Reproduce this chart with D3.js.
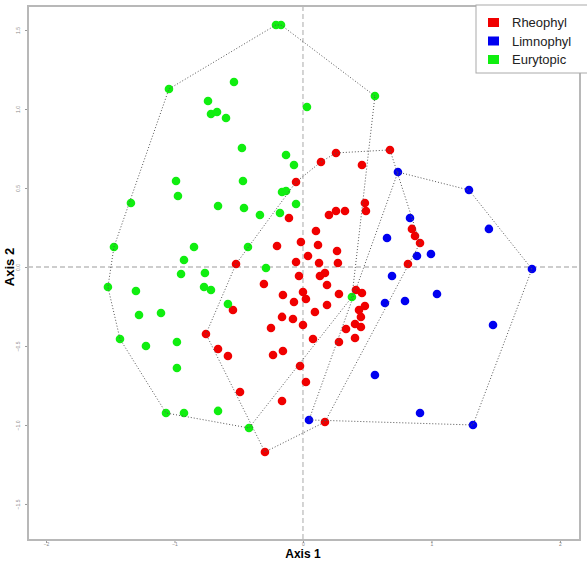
<!DOCTYPE html>
<html>
<head>
<meta charset="utf-8">
<script src="https://cdn.jsdelivr.net/npm/d3@7"></script>
<style>
  body { margin: 0; background: #fff; }
  svg { display: block; font-family: "Liberation Sans", Arial, sans-serif; }
</style>
</head>
<body>
<svg id="chart"></svg>
<script>
// groups and their colours
var groups = ["Rheophyl", "Limnophyl", "Eurytopic"];
var groupColors = ["#f00000", "#0000f0", "#10ee10"];

// site scores: [axis1, axis2]
var rheophyl = [
  [0.257, 0.722], [0.677, 0.741], [0.140, 0.665], [0.459, 0.646], [-0.054, 0.538],
  [0.482, 0.405], [0.490, 0.354], [0.202, 0.329], [0.257, 0.354], [0.327, 0.354],
  [-0.109, 0.310], [0.101, 0.228], [-0.202, 0.133], [-0.016, 0.158], [0.117, 0.139],
  [0.265, 0.101], [-0.054, 0.032], [0.039, 0.070], [0.125, 0.025], [0.272, 0.025],
  [-0.521, 0.019], [-0.031, -0.057], [0.132, -0.057], [0.171, -0.038], [0.817, 0.019],
  [0.187, -0.114], [-0.304, -0.108], [-0.156, -0.177], [0.000, -0.158], [0.023, -0.203],
  [-0.070, -0.222], [0.280, -0.171], [0.412, -0.146], [0.459, -0.165], [0.482, -0.247],
  [0.436, -0.272], [0.451, -0.316], [0.187, -0.241], [0.093, -0.285], [-0.163, -0.316],
  [-0.078, -0.329], [0.000, -0.367], [-0.249, -0.386], [0.405, -0.361], [0.451, -0.380],
  [0.335, -0.392], [0.405, -0.449], [0.280, -0.475], [0.078, -0.456], [-0.545, -0.272],
  [-0.755, -0.424], [-0.661, -0.519], [-0.584, -0.563], [-0.233, -0.557], [-0.156, -0.532],
  [-0.023, -0.627], [0.023, -0.728], [-0.490, -0.791], [-0.163, -0.848], [0.171, -0.981],
  [-0.296, -1.171], [0.848, 0.241], [0.872, 0.196], [0.911, 0.152]
];
var limnophyl = [
  [0.739, 0.601], [1.292, 0.487], [0.833, 0.310], [1.447, 0.241], [0.654, 0.184],
  [0.693, -0.057], [0.887, 0.070], [0.996, 0.082], [1.782, -0.013], [0.638, -0.228],
  [0.794, -0.215], [1.043, -0.171], [1.479, -0.367], [0.560, -0.684], [0.911, -0.924],
  [0.047, -0.968], [1.323, -1.000]
];
var eurytopic = [
  [-0.210, 1.532], [-0.171, 1.532], [-1.043, 1.127], [-0.537, 1.171], [0.560, 1.082],
  [-0.739, 1.051], [-0.716, 0.968], [-0.669, 0.981], [-0.599, 0.943], [0.031, 1.013],
  [-0.475, 0.753], [-0.132, 0.709], [-0.070, 0.646], [-0.988, 0.544], [-0.467, 0.544],
  [-0.973, 0.449], [-0.163, 0.475], [-0.132, 0.481], [-1.339, 0.405], [-0.661, 0.386],
  [-0.459, 0.373], [-0.054, 0.399], [-0.335, 0.329], [-0.179, 0.342], [-1.471, 0.127],
  [-0.848, 0.127], [-0.428, 0.127], [-0.926, 0.044], [-0.288, -0.006], [-0.949, -0.044],
  [-0.763, -0.038], [-1.518, -0.127], [-1.300, -0.152], [-0.770, -0.127], [-0.716, -0.146],
  [-0.584, -0.234], [-1.276, -0.304], [-1.105, -0.291], [-1.424, -0.456], [-1.222, -0.500],
  [-0.981, -0.475], [-0.981, -0.639], [0.381, -0.190], [-1.066, -0.924], [-0.926, -0.924],
  [-0.661, -0.911], [-0.420, -1.019]
];

var xTicks = [-2, -1, 0, 1, 2];
var yTicks = [-1.5, -1.0, -0.5, 0.0, 0.5, 1.0, 1.5];

var W = 587, H = 562;
var plot = {left: 28, right: 580, top: 6, bottom: 540};

var svg = d3.select("#chart").attr("width", W).attr("height", H);

var x = d3.scaleLinear().domain([-2.140, 2.156]).range([plot.left, plot.right]);
var y = d3.scaleLinear().domain([-1.728, 1.652]).range([plot.bottom, plot.top]);

// zero lines
svg.append("line")
  .attr("x1", x(0)).attr("x2", x(0))
  .attr("y1", plot.top).attr("y2", plot.bottom)
  .attr("stroke", "#bdbdbd").attr("stroke-width", 1.3).attr("stroke-dasharray", "5,3");
svg.append("line")
  .attr("x1", plot.left).attr("x2", plot.right)
  .attr("y1", y(0)).attr("y2", y(0))
  .attr("stroke", "#bdbdbd").attr("stroke-width", 1.5).attr("stroke-dasharray", "5,3");

// axes
var xAxis = svg.append("g")
  .attr("transform", "translate(0," + plot.bottom + ")")
  .call(d3.axisBottom(x).tickValues(xTicks).tickSize(3).tickFormat(d3.format("d")));
var yAxis = svg.append("g")
  .attr("transform", "translate(" + plot.left + ",0)")
  .call(d3.axisLeft(y).tickValues(yTicks).tickSize(3).tickFormat(d3.format(".1f")));
[xAxis, yAxis].forEach(function(g) {
  g.select(".domain").remove();
  g.selectAll(".tick line").attr("stroke", "#999");
  g.selectAll(".tick text").attr("fill", "#888").style("font-size", "5px");
});
xAxis.selectAll(".tick text").attr("y", 2);
yAxis.selectAll(".tick text")
  .attr("x", null).attr("dy", null)
  .attr("text-anchor", "middle")
  .attr("transform", "translate(-8,0) rotate(-90)");

// frame
svg.append("rect")
  .attr("x", plot.left).attr("y", plot.top)
  .attr("width", plot.right - plot.left).attr("height", plot.bottom - plot.top)
  .attr("fill", "none").attr("stroke", "#b8b8b8").attr("stroke-width", 2);

var sets = [rheophyl, limnophyl, eurytopic];

// points
sets.forEach(function(pts, i) {
  svg.append("g").selectAll("circle")
    .data(pts)
    .join("circle")
      .attr("cx", function(d) { return x(d[0]); })
      .attr("cy", function(d) { return y(d[1]); })
      .attr("r", 4.3)
      .attr("fill", groupColors[i]);
});

// convex hulls, dotted
sets.forEach(function(pts) {
  var hull = d3.polygonHull(pts.map(function(d) { return [x(d[0]), y(d[1])]; }));
  svg.append("path")
    .attr("d", "M" + hull.join("L") + "Z")
    .attr("fill", "none")
    .attr("stroke", "#555")
    .attr("stroke-width", 1)
    .attr("stroke-dasharray", "1,2");
});

// legend
var legend = svg.append("g");
legend.append("rect")
  .attr("x", 476).attr("y", 5).attr("width", 120).attr("height", 68)
  .attr("fill", "#fff").attr("stroke", "#aaa").attr("stroke-width", 1);
groups.forEach(function(name, i) {
  var ly = 22 + i * 18.5;
  legend.append("rect")
    .attr("x", 488).attr("y", ly - 4).attr("width", 11).attr("height", 9)
    .attr("fill", groupColors[i]);
  legend.append("text")
    .attr("x", 512).attr("y", ly + 5)
    .style("font-size", "13px").attr("fill", "#222")
    .text(name);
});

// axis titles
svg.append("text")
  .attr("x", x(0)).attr("y", 558)
  .attr("text-anchor", "middle")
  .style("font-size", "12px").style("font-weight", "bold")
  .text("Axis 1");
svg.append("text")
  .attr("transform", "translate(14," + y(0) + ") rotate(-90)")
  .attr("text-anchor", "middle")
  .style("font-size", "13px").style("font-weight", "bold")
  .text("Axis 2");
</script>
</body>
</html>
